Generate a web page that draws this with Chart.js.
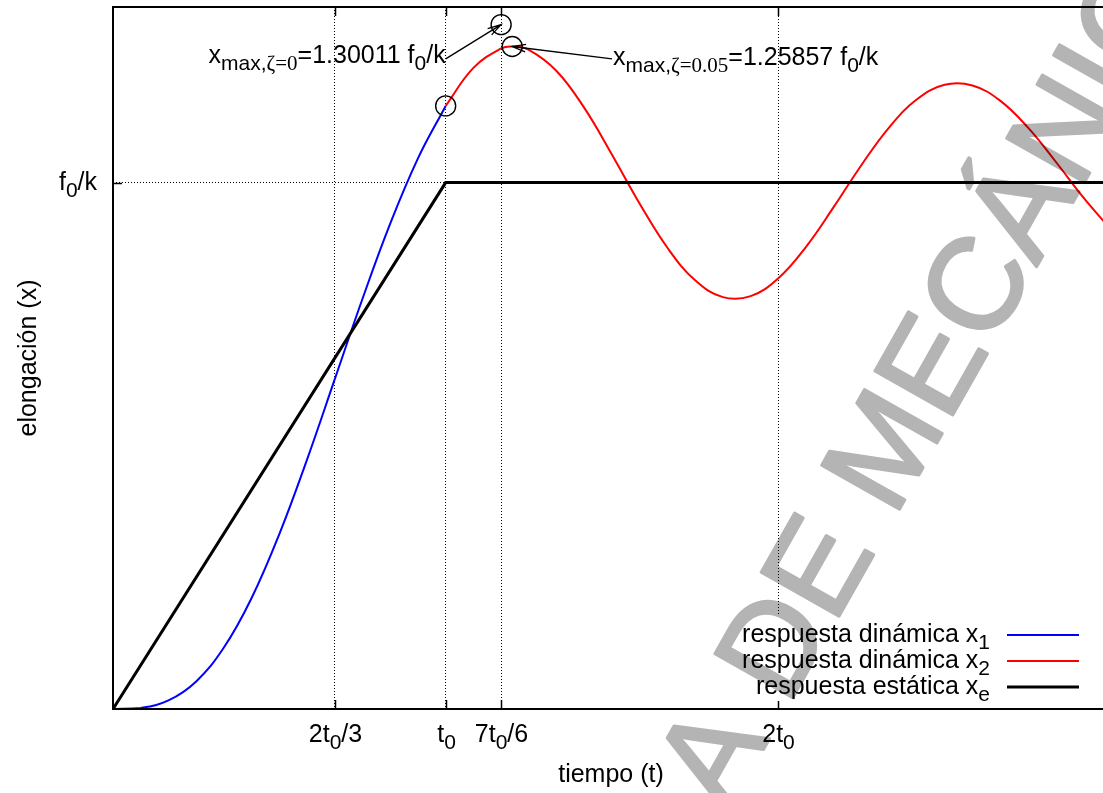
<!DOCTYPE html>
<html>
<head>
<meta charset="utf-8">
<script src="https://cdn.jsdelivr.net/npm/chart.js@4/dist/chart.umd.min.js"></script>
<style>
  html, body { margin: 0; padding: 0; background: #fff; overflow: hidden; }
  canvas { display: block; }
</style>
</head>
<body>
<canvas id="respuesta-chart" width="1120" height="793"></canvas>
<script>
// ==================================================================
//
// Data (time in t0, elongation in f0/k)
//
// ==================================================================

const tStatic = [0, 1, 3];
const xStatic = [0, 1, 1];

const tDyn1 = [0, 0.0833, 0.1667, 0.25, 0.3333, 0.4167, 0.5, 0.5833, 0.6667, 0.75, 0.8333, 0.9167, 1];
const xDyn1 = [0, 0.0021, 0.0163, 0.0524, 0.1167, 0.2109, 0.3322, 0.4739, 0.6266, 0.7794, 0.922, 1.0459, 1.1457];

const tDyn2 = [1, 1.0833, 1.1667, 1.2, 1.25, 1.3333, 1.4167, 1.5, 1.5833, 1.6667, 1.75, 1.8333, 1.9167, 2,
  2.0833, 2.1667, 2.25, 2.3333, 2.4167, 2.5, 2.5833, 2.6667, 2.75, 2.8333, 2.9167, 3];
const xDyn2 = [1.1457, 1.2179, 1.2548, 1.2586, 1.2522, 1.2121, 1.1419, 1.0531, 0.9599, 0.8762, 0.8143, 0.7824, 0.7843, 0.8183,
  0.8781, 0.9538, 1.0335, 1.1051, 1.1583, 1.1858, 1.1845, 1.1557, 1.1048, 1.0401, 0.972, 0.9107];

// circled points
const markT = [1, 1.1667, 1.2];
const markX = [1.1457, 1.30011, 1.25857];

// ticks
const tickT = [0.6667, 1, 1.1667, 2];
const tickTLabels = ["2t_0/3", "t_0", "7t_0/6", "2t_0"];
const tickX = [1];
const tickXLabels = ["f_0/k"];

// legend
const seriesNames = ["respuesta dinámica x_1", "respuesta dinámica x_2", "respuesta estática x_e"];

// annotations: label anchor (t, x), arrow tail (t, x), arrow goes to markT/markX[annMark]
const annText = ["x_{max,}_[ζ=0]=1.30011 f_0/k", "x_{max,}_[ζ=0.05]=1.25857 f_0/k"];
const annT = [1.0, 1.503];
const annX = [1.227, 1.2235];
const annAlign = ["right", "left"];
const annFromT = [1.0, 1.5];
const annFromX = [1.235, 1.235];
const annMark = [1, 2];

const toPoints = (ts, xs) => ts.map((t, i) => ({ x: t, y: xs[i] }));

// ==================================================================
//
// Text with gnuplot style subscripts: _c  _{...}  _[...] (serif)
//
// ==================================================================

const FONT = '"Liberation Sans", Arial, sans-serif';
const fontFor = (kind) =>
  kind === 0 ? "25px " + FONT : kind === 1 ? "21px " + FONT : '21px "Liberation Serif", serif';

function parseRich(s) {
  let parts = [];
  let buf = "";
  let i = 0;
  while (i < s.length) {
    if (s[i] === "_") {
      if (buf) { parts.push([buf, 0]); buf = ""; }
      let c = s[i + 1];
      if (c === "{" || c === "[") {
        let end = s.indexOf(c === "{" ? "}" : "]", i);
        parts.push([s.slice(i + 2, end), c === "{" ? 1 : 2]);
        i = end + 1;
      } else {
        parts.push([c, 1]);
        i += 2;
      }
    } else {
      buf += s[i];
      i++;
    }
  }
  if (buf) parts.push([buf, 0]);
  return parts;
}

function richText(ctx, s, x, y, align) {
  let parts = parseRich(s);
  let w = 0;
  parts.forEach((p) => { ctx.font = fontFor(p[1]); w += ctx.measureText(p[0]).width; });
  let cx = align === "right" ? x - w : align === "center" ? x - w / 2 : x;
  ctx.textAlign = "left";
  ctx.textBaseline = "alphabetic";
  parts.forEach((p) => {
    ctx.font = fontFor(p[1]);
    ctx.fillText(p[0], cx, y + (p[1] ? 7 : 0));
    cx += ctx.measureText(p[0]).width;
  });
}

function arrow(ctx, x1, y1, x2, y2) {
  let a = Math.atan2(y2 - y1, x2 - x1);
  let len = 14, spread = 0.27;
  ctx.beginPath();
  ctx.moveTo(x1, y1);
  ctx.lineTo(x2, y2);
  ctx.moveTo(x2 - len * Math.cos(a - spread), y2 - len * Math.sin(a - spread));
  ctx.lineTo(x2, y2);
  ctx.lineTo(x2 - len * Math.cos(a + spread), y2 - len * Math.sin(a + spread));
  ctx.stroke();
}

// ==================================================================
//
// Plugin: frame, inward ticks, labels, legend, annotations, watermark
//
// ==================================================================

const gnuplotLook = {
  id: "gnuplotLook",
  beforeDraw(chart) {
    let ctx = chart.ctx;
    ctx.save();
    ctx.fillStyle = "#fff";
    ctx.fillRect(0, 0, chart.width, chart.height);
    ctx.restore();
  },
  afterDatasetsDraw(chart) {
    let ctx = chart.ctx;
    let xs = chart.scales.x, ys = chart.scales.y;
    let a = chart.chartArea;
    ctx.save();
    ctx.fillStyle = "#000";
    ctx.strokeStyle = "#000";

    // frame
    ctx.lineWidth = 2;
    ctx.strokeRect(a.left, a.top, a.right - a.left, a.bottom - a.top);

    // inward tick marks + tick labels
    ctx.lineWidth = 1.5;
    xs.ticks.forEach((tk, i) => {
      let px = Math.round(xs.getPixelForValue(tk.value)) + 0.5;
      ctx.beginPath();
      ctx.moveTo(px, a.bottom); ctx.lineTo(px, a.bottom - 9);
      ctx.moveTo(px, a.top); ctx.lineTo(px, a.top + 9);
      ctx.stroke();
      richText(ctx, tickTLabels[i], px, a.bottom + 33, "center");
    });
    ys.ticks.forEach((tk, i) => {
      let py = Math.round(ys.getPixelForValue(tk.value)) + 0.5;
      ctx.beginPath();
      ctx.moveTo(a.left, py); ctx.lineTo(a.left + 9, py);
      ctx.stroke();
      richText(ctx, tickXLabels[i], a.left - 16, py + 6, "right");
    });

    // axis titles
    ctx.font = "25px " + FONT;
    ctx.textAlign = "center";
    ctx.fillText("tiempo (t)", 611, 782);
    ctx.save();
    ctx.translate(36, 358);
    ctx.rotate(-Math.PI / 2);
    ctx.fillText("elongación (x)", 0, 0);
    ctx.restore();

    // legend (opaque key box)
    ctx.fillStyle = "#fff";
    ctx.fillRect(728, 614, 372, 87);
    ctx.fillStyle = "#000";
    let order = [2, 3, 1];
    seriesNames.forEach((name, i) => {
      let ds = chart.data.datasets[order[i]];
      let ly = 635 + i * 26;
      richText(ctx, name, 990, ly + 7, "right");
      ctx.strokeStyle = ds.borderColor;
      ctx.lineWidth = ds.borderWidth;
      ctx.beginPath();
      ctx.moveTo(1007, ly); ctx.lineTo(1079, ly);
      ctx.stroke();
    });

    // annotations with arrows
    ctx.strokeStyle = "#000";
    ctx.lineWidth = 1.3;
    annText.forEach((txt, i) => {
      richText(ctx, txt, xs.getPixelForValue(annT[i]), ys.getPixelForValue(annX[i]), annAlign[i]);
      arrow(ctx,
        xs.getPixelForValue(annFromT[i]), ys.getPixelForValue(annFromX[i]),
        xs.getPixelForValue(markT[annMark[i]]), ys.getPixelForValue(markX[annMark[i]]));
    });
    ctx.restore();
  },
  afterDraw(chart) {
    // watermark, drawn on its own layer then multiplied over the plot
    let off = document.createElement("canvas");
    off.width = chart.width;
    off.height = chart.height;
    let octx = off.getContext("2d");
    octx.fillStyle = "#b4b4b4";
    octx.strokeStyle = "#b4b4b4";
    octx.lineWidth = 3;
    octx.lineJoin = "round";
    octx.font = "130px " + FONT;
    octx.textBaseline = "alphabetic";
    octx.translate(727, 814);
    octx.rotate(-60.5 * Math.PI / 180);
    octx.fillText("A DE MECÁNICA", 0, 0);
    octx.strokeText("A DE MECÁNICA", 0, 0);

    let ctx = chart.ctx;
    ctx.save();
    ctx.setTransform(1, 0, 0, 1, 0, 0);
    ctx.globalCompositeOperation = "multiply";
    ctx.drawImage(off, 0, 0);
    ctx.restore();
  },
};

// ==================================================================
//
// Chart
//
// ==================================================================

let respuestaChart = new Chart(document.getElementById("respuesta-chart").getContext("2d"), {
  type: "line",
  data: {
    datasets: [
      {
        label: "puntos",
        data: toPoints(markT, markX),
        showLine: false,
        pointRadius: 10,
        pointBorderWidth: 1.4,
        pointBorderColor: "#000",
        pointBackgroundColor: "rgba(0,0,0,0)",
        borderColor: "#000",
      },
      {
        label: "respuesta estática",
        data: toPoints(tStatic, xStatic),
        borderColor: "#000",
        borderWidth: 3,
        pointRadius: 0,
        tension: 0,
      },
      {
        label: "respuesta dinámica x1",
        data: toPoints(tDyn1, xDyn1),
        borderColor: "#0000ff",
        borderWidth: 2,
        pointRadius: 0,
        tension: 0.4,
      },
      {
        label: "respuesta dinámica x2",
        data: toPoints(tDyn2, xDyn2),
        borderColor: "#ff0000",
        borderWidth: 2,
        pointRadius: 0,
        tension: 0.4,
      },
    ],
  },
  options: {
    responsive: false,
    animation: false,
    events: [],
    layout: { autoPadding: false, padding: { left: 113, top: 7, right: 9, bottom: 84 } },
    plugins: { legend: { display: false }, tooltip: { enabled: false } },
    scales: {
      x: {
        type: "linear",
        min: 0,
        max: 3,
        afterBuildTicks: (s) => { s.ticks = tickT.map((v) => ({ value: v })); },
        ticks: { display: false },
        grid: { color: "#000", lineWidth: 1, drawTicks: false },
        border: { display: false, dash: [1, 2] },
      },
      y: {
        type: "linear",
        min: 0,
        max: 1.3336,
        afterBuildTicks: (s) => { s.ticks = tickX.map((v) => ({ value: v })); },
        ticks: { display: false },
        grid: { color: "#000", lineWidth: 1, drawTicks: false },
        border: { display: false, dash: [1, 2] },
      },
    },
  },
  plugins: [gnuplotLook],
});
</script>
</body>
</html>
